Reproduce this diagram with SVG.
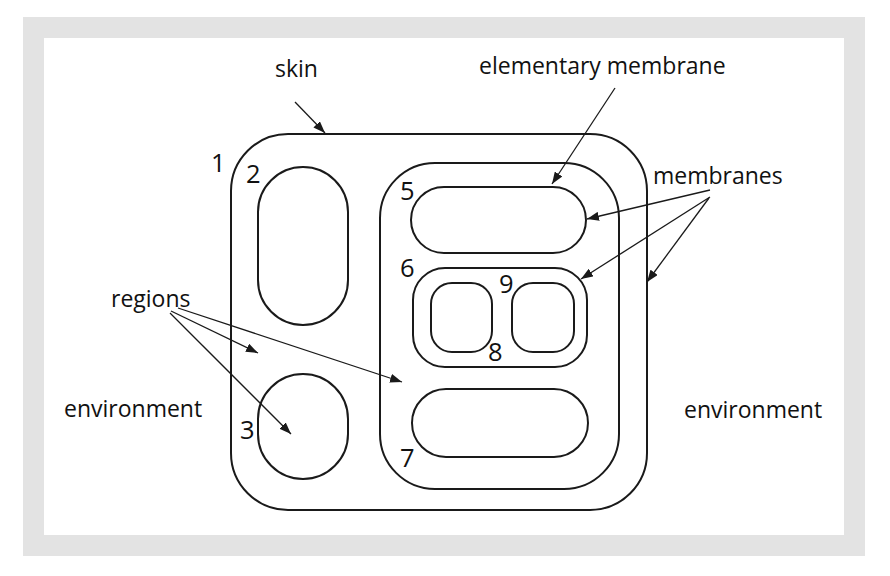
<svg xmlns="http://www.w3.org/2000/svg" width="890" height="576" viewBox="0 0 890 576">
<defs>
<style>
.m{fill:none;stroke:#1a1a1a;stroke-width:2}
.c{fill:none;stroke:#1a1a1a;stroke-width:1.3}
.t{font-family:"Open Sans","Liberation Sans",sans-serif;font-size:23px;fill:#111}
.n{font-family:"Open Sans","Liberation Sans",sans-serif;font-size:25.5px;fill:#111}
</style>
<marker id="ah" markerUnits="userSpaceOnUse" markerWidth="13" markerHeight="9" refX="12" refY="4.5" orient="auto">
<path d="M0,0 L12,4.5 L0,9 z" fill="#1a1a1a"/>
</marker>
</defs>
<rect x="0" y="0" width="890" height="576" fill="#fff"/>
<rect x="23" y="17" width="842" height="539" fill="#e3e3e3"/>
<rect x="44" y="38" width="800" height="497" fill="#fff"/>
<g id="skin"><rect class="m" x="231" y="134" width="416" height="376" rx="57"/><text class="n" x="211" y="172">1</text></g>
<g id="region2"><rect class="m" x="258" y="167" width="90" height="158" rx="45"/><text class="n" x="246" y="183">2</text></g>
<g id="region3"><rect class="m" x="258" y="374" width="90" height="105" rx="45"/><text class="n" x="240" y="439">3</text></g>
<g id="membrane4"><rect class="m" x="380" y="163" width="239" height="326" rx="55"/></g>
<g id="membrane5"><rect class="m" x="411" y="187" width="175" height="66" rx="33"/><text class="n" x="400" y="200">5</text></g>
<g id="membrane6"><rect class="m" x="413" y="268" width="174" height="99" rx="32"/><text class="n" x="400" y="277">6</text></g>
<g id="membrane8"><rect class="m" x="431" y="283" width="61" height="69" rx="21"/><text class="n" x="488" y="361">8</text></g>
<g id="membrane9"><rect class="m" x="512" y="283" width="62" height="69" rx="21"/><text class="n" x="499" y="293">9</text></g>
<g id="membrane7"><rect class="m" x="412" y="389" width="176" height="68" rx="34"/><text class="n" x="400" y="467">7</text></g>
<g id="labels">
<text class="t" x="275" y="77">skin</text>
<text class="t" x="479" y="74">elementary membrane</text>
<text class="t" x="653" y="184">membranes</text>
<text class="t" x="111" y="307">regions</text>
<text class="t" x="64" y="417">environment</text>
<text class="t" x="684" y="418">environment</text>
</g>
<g id="connectors">
<line class="c" x1="295" y1="102" x2="325" y2="133" marker-end="url(#ah)"/>
<line class="c" x1="615" y1="88" x2="552" y2="184" marker-end="url(#ah)"/>
<line class="c" x1="710" y1="190" x2="587" y2="219" marker-end="url(#ah)"/>
<line class="c" x1="710" y1="197" x2="581" y2="279" marker-end="url(#ah)"/>
<line class="c" x1="709" y1="198" x2="647" y2="282" marker-end="url(#ah)"/>
<line class="c" x1="171" y1="311" x2="258" y2="353" marker-end="url(#ah)"/>
<line class="c" x1="170" y1="313" x2="291" y2="434" marker-end="url(#ah)"/>
<line class="c" x1="178" y1="308" x2="402" y2="382" marker-end="url(#ah)"/>
</g>
</svg>
